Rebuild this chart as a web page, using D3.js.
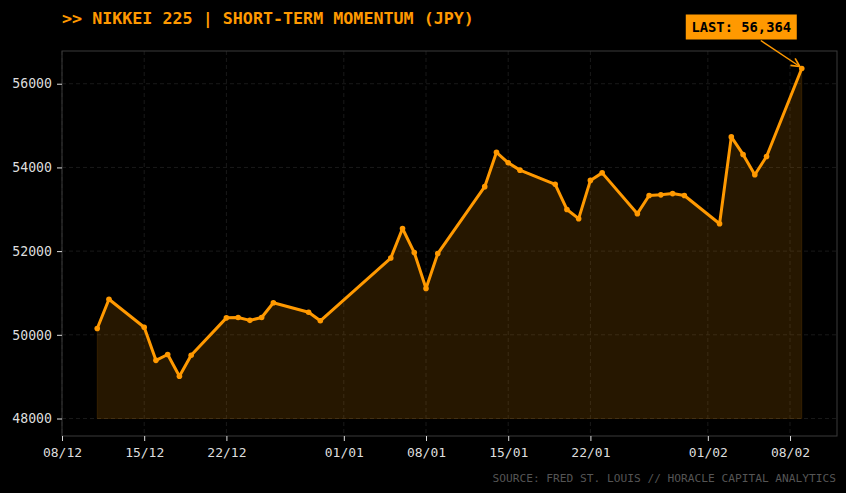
<!DOCTYPE html>
<html>
<head>
<meta charset="utf-8">
<script src="https://cdn.jsdelivr.net/npm/d3@7"></script>
<style>
  body { margin: 0; background: #000; }
  svg { display: block; }
  text { font-family: "DejaVu Sans Mono", monospace; }
</style>
</head>
<body>
<svg id="chart"></svg>
<script>
// trading days (dd/mm/yyyy) and closes
const dates = [
  "11/12/2025", "12/12/2025", "15/12/2025", "16/12/2025", "17/12/2025", "18/12/2025", "19/12/2025",
  "22/12/2025", "23/12/2025", "24/12/2025", "25/12/2025", "26/12/2025", "29/12/2025", "30/12/2025",
  "05/01/2026", "06/01/2026", "07/01/2026", "08/01/2026", "09/01/2026",
  "13/01/2026", "14/01/2026", "15/01/2026", "16/01/2026",
  "19/01/2026", "20/01/2026", "21/01/2026", "22/01/2026", "23/01/2026",
  "26/01/2026", "27/01/2026", "28/01/2026", "29/01/2026", "30/01/2026",
  "02/02/2026", "03/02/2026", "04/02/2026", "05/02/2026", "06/02/2026", "09/02/2026"
];
const closes = [
  50150, 50850, 50180, 49390, 49530, 49010, 49510,
  50405, 50415, 50345, 50415, 50765, 50540, 50335,
  51835, 52540, 51965, 51105, 51940,
  53540, 54360, 54110, 53935,
  53595, 52995, 52775, 53690, 53870,
  52895, 53330, 53345, 53375, 53330,
  52655, 54730, 54310, 53825, 54260, 56364
];
const xTickDates = ["08/12/2025", "15/12/2025", "22/12/2025", "01/01/2026", "08/01/2026",
  "15/01/2026", "22/01/2026", "01/02/2026", "08/02/2026"];
const yTicks = [48000, 50000, 52000, 54000, 56000];
const baseline = 48000;

const orange = "#ff9900";
const W = 846, H = 493;
const margin = {top: 51, right: 9, bottom: 57, left: 62};
const width = W - margin.left - margin.right,
  height = H - margin.top - margin.bottom;

const parseTime = d3.timeParse("%d/%m/%Y");
const data = dates.map(function (d, i) {
  return {date: parseTime(d), value: closes[i]};
});

const ext = d3.extent(data, function (d) { return d.date; });
const xPad = (ext[1] - ext[0]) * 0.05;
const x = d3.scaleTime()
  .domain([new Date(+ext[0] - xPad), new Date(+ext[1] + xPad)])
  .range([0, width]);

const yMax = d3.max(closes);
const yPad = (yMax - baseline) * 0.05;
const y = d3.scaleLinear()
  .domain([baseline - yPad, yMax + yPad])
  .range([height, 0]);

const svg = d3.select("#chart")
  .attr("width", W)
  .attr("height", H)
  .style("background", "#000");

// title
svg.append("text")
  .attr("x", 62)
  .attr("y", 24)
  .attr("fill", orange)
  .attr("font-size", "16.7px")
  .attr("font-weight", "bold")
  .text(">> NIKKEI 225 | SHORT-TERM MOMENTUM (JPY)");

const g = svg.append("g")
  .attr("transform", "translate(" + margin.left + "," + margin.top + ")");

// grid
const xTicks = xTickDates.map(parseTime);
g.append("g").selectAll("line")
  .data(xTicks)
  .join("line")
  .attr("x1", function (d) { return x(d); })
  .attr("x2", function (d) { return x(d); })
  .attr("y1", 0).attr("y2", height)
  .attr("stroke", "#191919")
  .attr("stroke-dasharray", "4,3");
g.append("g").selectAll("line")
  .data(yTicks)
  .join("line")
  .attr("x1", 0).attr("x2", width)
  .attr("y1", function (d) { return y(d); })
  .attr("y2", function (d) { return y(d); })
  .attr("stroke", "#191919")
  .attr("stroke-dasharray", "4,3");

// area fill
const area = d3.area()
  .x(function (d) { return x(d.date); })
  .y0(y(baseline))
  .y1(function (d) { return y(d.value); });
g.append("path")
  .datum(data)
  .attr("d", area)
  .attr("fill", orange)
  .attr("fill-opacity", 0.15)
  .attr("stroke", orange)
  .attr("stroke-opacity", 0.12)
  .attr("stroke-width", 1);

// line
const valueline = d3.line()
  .x(function (d) { return x(d.date); })
  .y(function (d) { return y(d.value); });
g.append("path")
  .datum(data)
  .attr("d", valueline)
  .attr("fill", "none")
  .attr("stroke", orange)
  .attr("stroke-width", 3)
  .attr("stroke-linejoin", "round");

g.append("g").selectAll("circle")
  .data(data)
  .join("circle")
  .attr("cx", function (d) { return x(d.date); })
  .attr("cy", function (d) { return y(d.value); })
  .attr("r", 2.8)
  .attr("fill", orange);

// frame
g.append("rect")
  .attr("x", 0).attr("y", 0)
  .attr("width", width).attr("height", height)
  .attr("fill", "none")
  .attr("stroke", "#3a3a3a")
  .attr("stroke-width", 1);

// axes
const xAxis = g.append("g")
  .attr("transform", "translate(0," + height + ")")
  .call(d3.axisBottom(x).tickValues(xTicks).tickFormat(d3.timeFormat("%d/%m")).tickSize(5).tickPadding(7));
xAxis.select(".domain").remove();
xAxis.selectAll("line").attr("stroke", "#dddddd");
xAxis.selectAll("text").attr("fill", "#dddddd").attr("font-size", "13px")
  .attr("font-family", "DejaVu Sans Mono, monospace");

const yAxis = g.append("g")
  .call(d3.axisLeft(y).tickValues(yTicks).tickFormat(d3.format("d")).tickSize(5).tickPadding(5));
yAxis.select(".domain").remove();
yAxis.selectAll("line").attr("stroke", "#dddddd");
yAxis.selectAll("text").attr("fill", "#dddddd").attr("font-size", "13.2px")
  .attr("font-family", "DejaVu Sans Mono, monospace");

// last value annotation
const last = data[data.length - 1];
const lx = x(last.date), ly = y(last.value);
svg.append("defs").append("marker")
  .attr("id", "arrow")
  .attr("viewBox", "0 0 10 10")
  .attr("refX", 9).attr("refY", 5)
  .attr("markerWidth", 7).attr("markerHeight", 7)
  .attr("orient", "auto")
  .append("path")
  .attr("d", "M1,1 L9,5 L1,9")
  .attr("fill", "none")
  .attr("stroke", orange)
  .attr("stroke-width", 1.6);

const ann = g.append("g");
ann.append("line")
  .attr("x1", lx - 41).attr("y1", ly - 28)
  .attr("x2", lx - 2).attr("y2", ly - 2)
  .attr("stroke", orange)
  .attr("stroke-width", 1.5)
  .attr("marker-end", "url(#arrow)");
ann.append("rect")
  .attr("x", lx - 116).attr("y", ly - 54)
  .attr("width", 111).attr("height", 25)
  .attr("fill", orange);
ann.append("text")
  .attr("x", lx - 60.5).attr("y", ly - 36.5)
  .attr("text-anchor", "middle")
  .attr("font-size", "13.8px")
  .attr("font-weight", "bold")
  .attr("fill", "#000")
  .text("LAST: " + d3.format(",")(last.value));

// source
svg.append("text")
  .attr("x", 836)
  .attr("y", 482)
  .attr("text-anchor", "end")
  .attr("font-size", "11.2px")
  .attr("fill", "#555555")
  .text("SOURCE: FRED ST. LOUIS // HORACLE CAPITAL ANALYTICS");
</script>
</body>
</html>
